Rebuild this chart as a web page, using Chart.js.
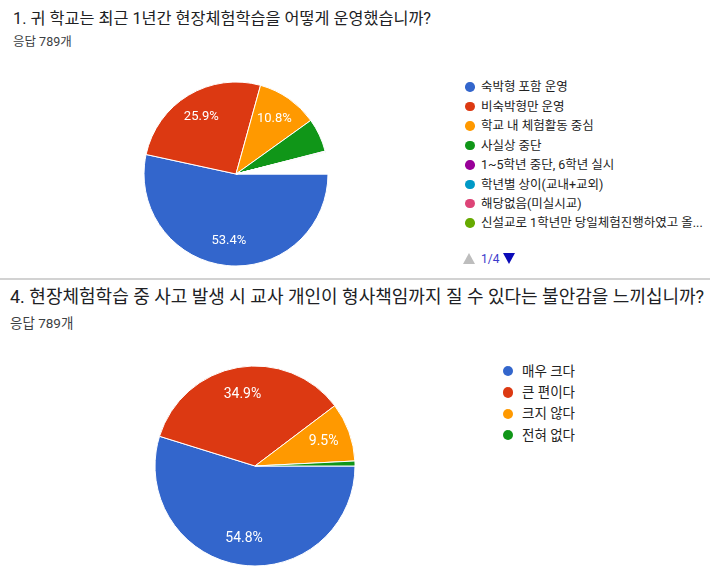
<!DOCTYPE html>
<html>
<head>
<meta charset="utf-8">
<script src="https://cdn.jsdelivr.net/npm/chart.js@4.4.1/dist/chart.umd.min.js"></script>
<style>
  html, body { margin:0; padding:0; background:#fff; }
  body { width:710px; height:578px; position:relative; overflow:hidden;
         font-family: Roboto, "Noto Sans CJK KR", "Noto Sans", sans-serif; color:#202124; }
  .abs { position:absolute; white-space:nowrap; }
  .title1 { left:13px; top:8px; font-size:16.3px; line-height:22px; }
  .resp1 { left:13px; top:34px; font-size:12.5px; line-height:16px; color:#3c4043; }
  .title2 { left:10px; top:285px; font-size:18px; line-height:24px; }
  .resp2 { left:10px; top:314px; font-size:13.5px; line-height:18px; color:#3c4043; }
  .sep { position:absolute; left:0; top:278px; width:710px; height:2px; background:#d2d2d2; }
  .item { position:absolute; white-space:nowrap; color:#222; }
  .dot { position:absolute; border-radius:50%; }
  canvas { position:absolute; }
</style>
</head>
<body>
<div class="abs title1" id="t1"></div>
<div class="abs resp1" id="r1"></div>
<div class="sep"></div>
<div class="abs title2" id="t2"></div>
<div class="abs resp2" id="r2"></div>

<div id="c1wrap" style="position:absolute;left:136px;top:74px;width:200px;height:200px;"><canvas id="c1"></canvas></div>
<div id="c2wrap" style="position:absolute;left:145px;top:356px;width:220px;height:220px;"><canvas id="c2"></canvas></div>

<div id="leg1"></div>
<div id="leg2"></div>
<div id="pager"></div>

<script>
// ---------- data ----------
const q1Title = "1. 귀 학교는 최근 1년간 현장체험학습을 어떻게 운영했습니까?";
const q1Responses = "응답 789개";
const q1Labels = ["숙박형 포함 운영", "비숙박형만 운영", "학교 내 체험활동 중심", "사실상 중단",
                  "1~5학년 중단, 6학년 실시", "학년별 상이(교내+교외)", "해당없음(미실시교)",
                  "신설교로 1학년만 당일체험진행하였고 올..."];
const q1Values = [53.4, 25.9, 10.8, 5.9, 0.1, 0.1, 0.1, 0.1];
const q1OtherPagesValue = 3.6;   // remaining tiny answers listed on legend pages 2–4
const q1Page = "1/4";

const q4Title = "4. 현장체험학습 중 사고 발생 시 교사 개인이 형사책임까지 질 수 있다는 불안감을 느끼십니까?";
const q4Responses = "응답 789개";
const q4Labels = ["매우 크다", "큰 편이다", "크지 않다", "전혀 없다"];
const q4Values = [54.8, 34.9, 9.5, 0.8];

const palette = ["#3366cc", "#dc3912", "#ff9900", "#109618", "#990099", "#0099c6", "#dd4477", "#66aa00"];

// ---------- text ----------
document.getElementById('t1').textContent = q1Title;
document.getElementById('r1').textContent = q1Responses;
document.getElementById('t2').textContent = q4Title;
document.getElementById('r2').textContent = q4Responses;

// ---------- legends ----------
function buildLegend(id, labels, cx, y0, step, dot, fs, textX) {
  const host = document.getElementById(id);
  labels.forEach((lab, i) => {
    const cy = y0 + i * step;
    const d = document.createElement('div');
    d.className = 'dot';
    d.style.cssText = `left:${cx - dot/2}px;top:${cy - dot/2}px;width:${dot}px;height:${dot}px;background:${palette[i]};`;
    host.appendChild(d);
    const t = document.createElement('div');
    t.className = 'item';
    t.textContent = lab;
    t.style.cssText = `left:${textX}px;top:${cy - fs*0.7}px;font-size:${fs}px;line-height:${fs*1.4}px;`;
    host.appendChild(t);
  });
}
buildLegend('leg1', q1Labels, 470, 87, 19.45, 9.5, 12.5, 481);
buildLegend('leg2', q4Labels, 508, 371, 21.4, 10.5, 13.5, 522);

// pager
(function(){
  const p = document.getElementById('pager');
  p.innerHTML =
    `<div class="abs" style="left:463px;top:253px;width:0;height:0;border-left:6px solid transparent;border-right:6px solid transparent;border-bottom:11px solid #bdbdbd;"></div>` +
    `<div class="abs" style="left:481px;top:251px;font-size:12px;line-height:16px;color:#3a3acb;">${q1Page}</div>` +
    `<div class="abs" style="left:503px;top:253px;width:0;height:0;border-left:6px solid transparent;border-right:6px solid transparent;border-top:11px solid #0b0bb8;"></div>`;
})();

// ---------- label plugin ----------
const pctLabels = {
  id: 'pctLabels',
  afterDatasetsDraw(chart, args, opts) {
    const ctx = chart.ctx;
    const ds = chart.data.datasets[0];
    const meta = chart.getDatasetMeta(0);
    ctx.save();
    ctx.fillStyle = '#ffffff';
    ctx.font = `${opts.size}px Roboto, "Noto Sans", sans-serif`;
    ctx.textAlign = 'center';
    ctx.textBaseline = 'middle';
    meta.data.forEach((arc, i) => {
      const v = ds.data[i];
      if (v < opts.min) return;
      const p = arc.getProps(['x','y','startAngle','endAngle','outerRadius'], true);
      const mid = (p.startAngle + p.endAngle) / 2;
      const rr = p.outerRadius * 0.73;
      ctx.fillText(v.toFixed(1) + '%', p.x + Math.cos(mid) * rr, p.y + Math.sin(mid) * rr);
    });
    ctx.restore();
  }
};

function makePie(canvasId, values, colors, radius, fs) {
  new Chart(document.getElementById(canvasId), {
    type: 'pie',
    data: {
      labels: values.map((_, i) => String(i)),
      datasets: [{
        data: values,
        backgroundColor: colors,
        borderColor: '#ffffff',
        borderWidth: 1,
        hoverOffset: 0
      }]
    },
    options: {
      responsive: true,
      maintainAspectRatio: false,
      animation: false,
      rotation: 90,
      radius: radius,
      layout: { padding: 0 },
      plugins: {
        legend: { display: false },
        tooltip: { enabled: false },
        pctLabels: { size: fs, min: 8 }
      }
    },
    plugins: [pctLabels]
  });
}

makePie('c1', q1Values.concat([q1OtherPagesValue]), palette.slice(0, q1Values.length).concat(['#ffffff']), 92, 13);
makePie('c2', q4Values, palette.slice(0, q4Values.length), 100, 14);
</script>
</body>
</html>
